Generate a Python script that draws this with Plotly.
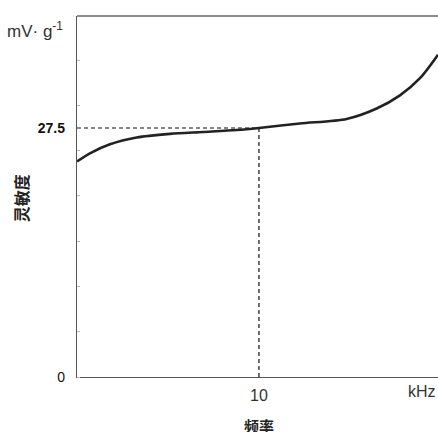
"""
Sensitivity vs frequency curve
"""

import plotly.graph_objects as go

# curve: frequency (kHz) and sensitivity (mV/g)
freq = [0, 0.71, 1.81, 3.28, 5.11, 6.92, 8.77, 10, 12.25, 14.82, 16.47, 17.75, 18.85, 19.84]
sens = [23.8, 24.7, 25.7, 26.45, 26.85, 27.06, 27.28, 27.5, 28.0, 28.5, 29.65, 31.1, 33.0, 35.6]

# reference point
ref_freq = 10
ref_sens = 27.5

x_ticks = [10]
y_ticks = [0, 27.5]
y_ticktext = ["0", "<b>27.5</b>"]

FONT = "Liberation Sans, Arial, sans-serif"
CJK = "Noto Sans CJK SC, sans-serif"

fig = go.Figure()

# dashed guide lines to the axes
fig.add_trace(go.Scatter(
    x=[0, ref_freq, ref_freq],
    y=[ref_sens, ref_sens, 0],
    mode='lines',
    line=dict(color='#111111', width=1.2, dash='4px,3px'),
    hoverinfo='skip',
    showlegend=False
))

fig.add_trace(go.Scatter(
    x=freq,
    y=sens,
    mode='lines',
    line=dict(color='#222222', width=2.6, shape='spline', smoothing=0.8),
    hovertemplate='<b>f:</b> %{x} kHz<br><b>S:</b> %{y} mV/g<extra></extra>',
    showlegend=False
))

fig.update_layout(
    width=438,
    height=432,
    margin=dict(l=77, r=0, t=16, b=55),
    plot_bgcolor='white',
    paper_bgcolor='white',
    font=dict(family=FONT, color='#333333'),
    xaxis=dict(
        range=[0, 19.84],
        showgrid=False,
        zeroline=False,
        showline=True,
        linecolor='#555555',
        linewidth=1.3,
        tickvals=x_ticks,
        ticks='',
        tickfont=dict(size=16, color='#333333'),
        ticklabelstandoff=4
    ),
    yaxis=dict(
        range=[0, 39.87],
        showgrid=False,
        zeroline=False,
        showline=True,
        linecolor='#555555',
        linewidth=1.3,
        tickvals=y_ticks,
        ticktext=y_ticktext,
        ticks='',
        tickfont=dict(size=14, color='#111111'),
        ticklabelstandoff=8,
        minor=dict(dtick=5, ticks='inside', ticklen=3, tickcolor='#bbbbbb', tickwidth=1)
    ),
    shapes=[dict(
        type='line', xref='paper', yref='paper',
        x0=0, x1=1, y0=1, y1=1,
        line=dict(color='#666666', width=1.3)
    )],
    annotations=[
        dict(text='mV· g<sup>-1</sup>', xref='paper', yref='paper',
             x=-0.115, y=0.96, xanchor='center', yanchor='middle', showarrow=False,
             font=dict(family=FONT, size=17, color='#333333')),
        dict(text='<b>灵敏度</b>', xref='paper', yref='paper',
             x=-0.155, y=0.495, xanchor='center', yanchor='middle',
             textangle=-90, showarrow=False,
             font=dict(family=CJK, size=16, color='#222222')),
        dict(text='kHz', xref='paper', yref='paper',
             x=1.0, y=-0.012, xanchor='right', yanchor='top', showarrow=False,
             font=dict(family=FONT, size=16, color='#333333')),
        dict(text='<b>频率</b>', xref='paper', yref='paper',
             x=0.503, y=-0.1, xanchor='center', yanchor='top', showarrow=False,
             font=dict(family=CJK, size=15, color='#222222')),
    ]
)

# drop the page's default body margin so the figure sits at the window's corner
fig.write_html("out.html", config={'displayModeBar': False},
               post_script="document.body.style.margin='0';")
